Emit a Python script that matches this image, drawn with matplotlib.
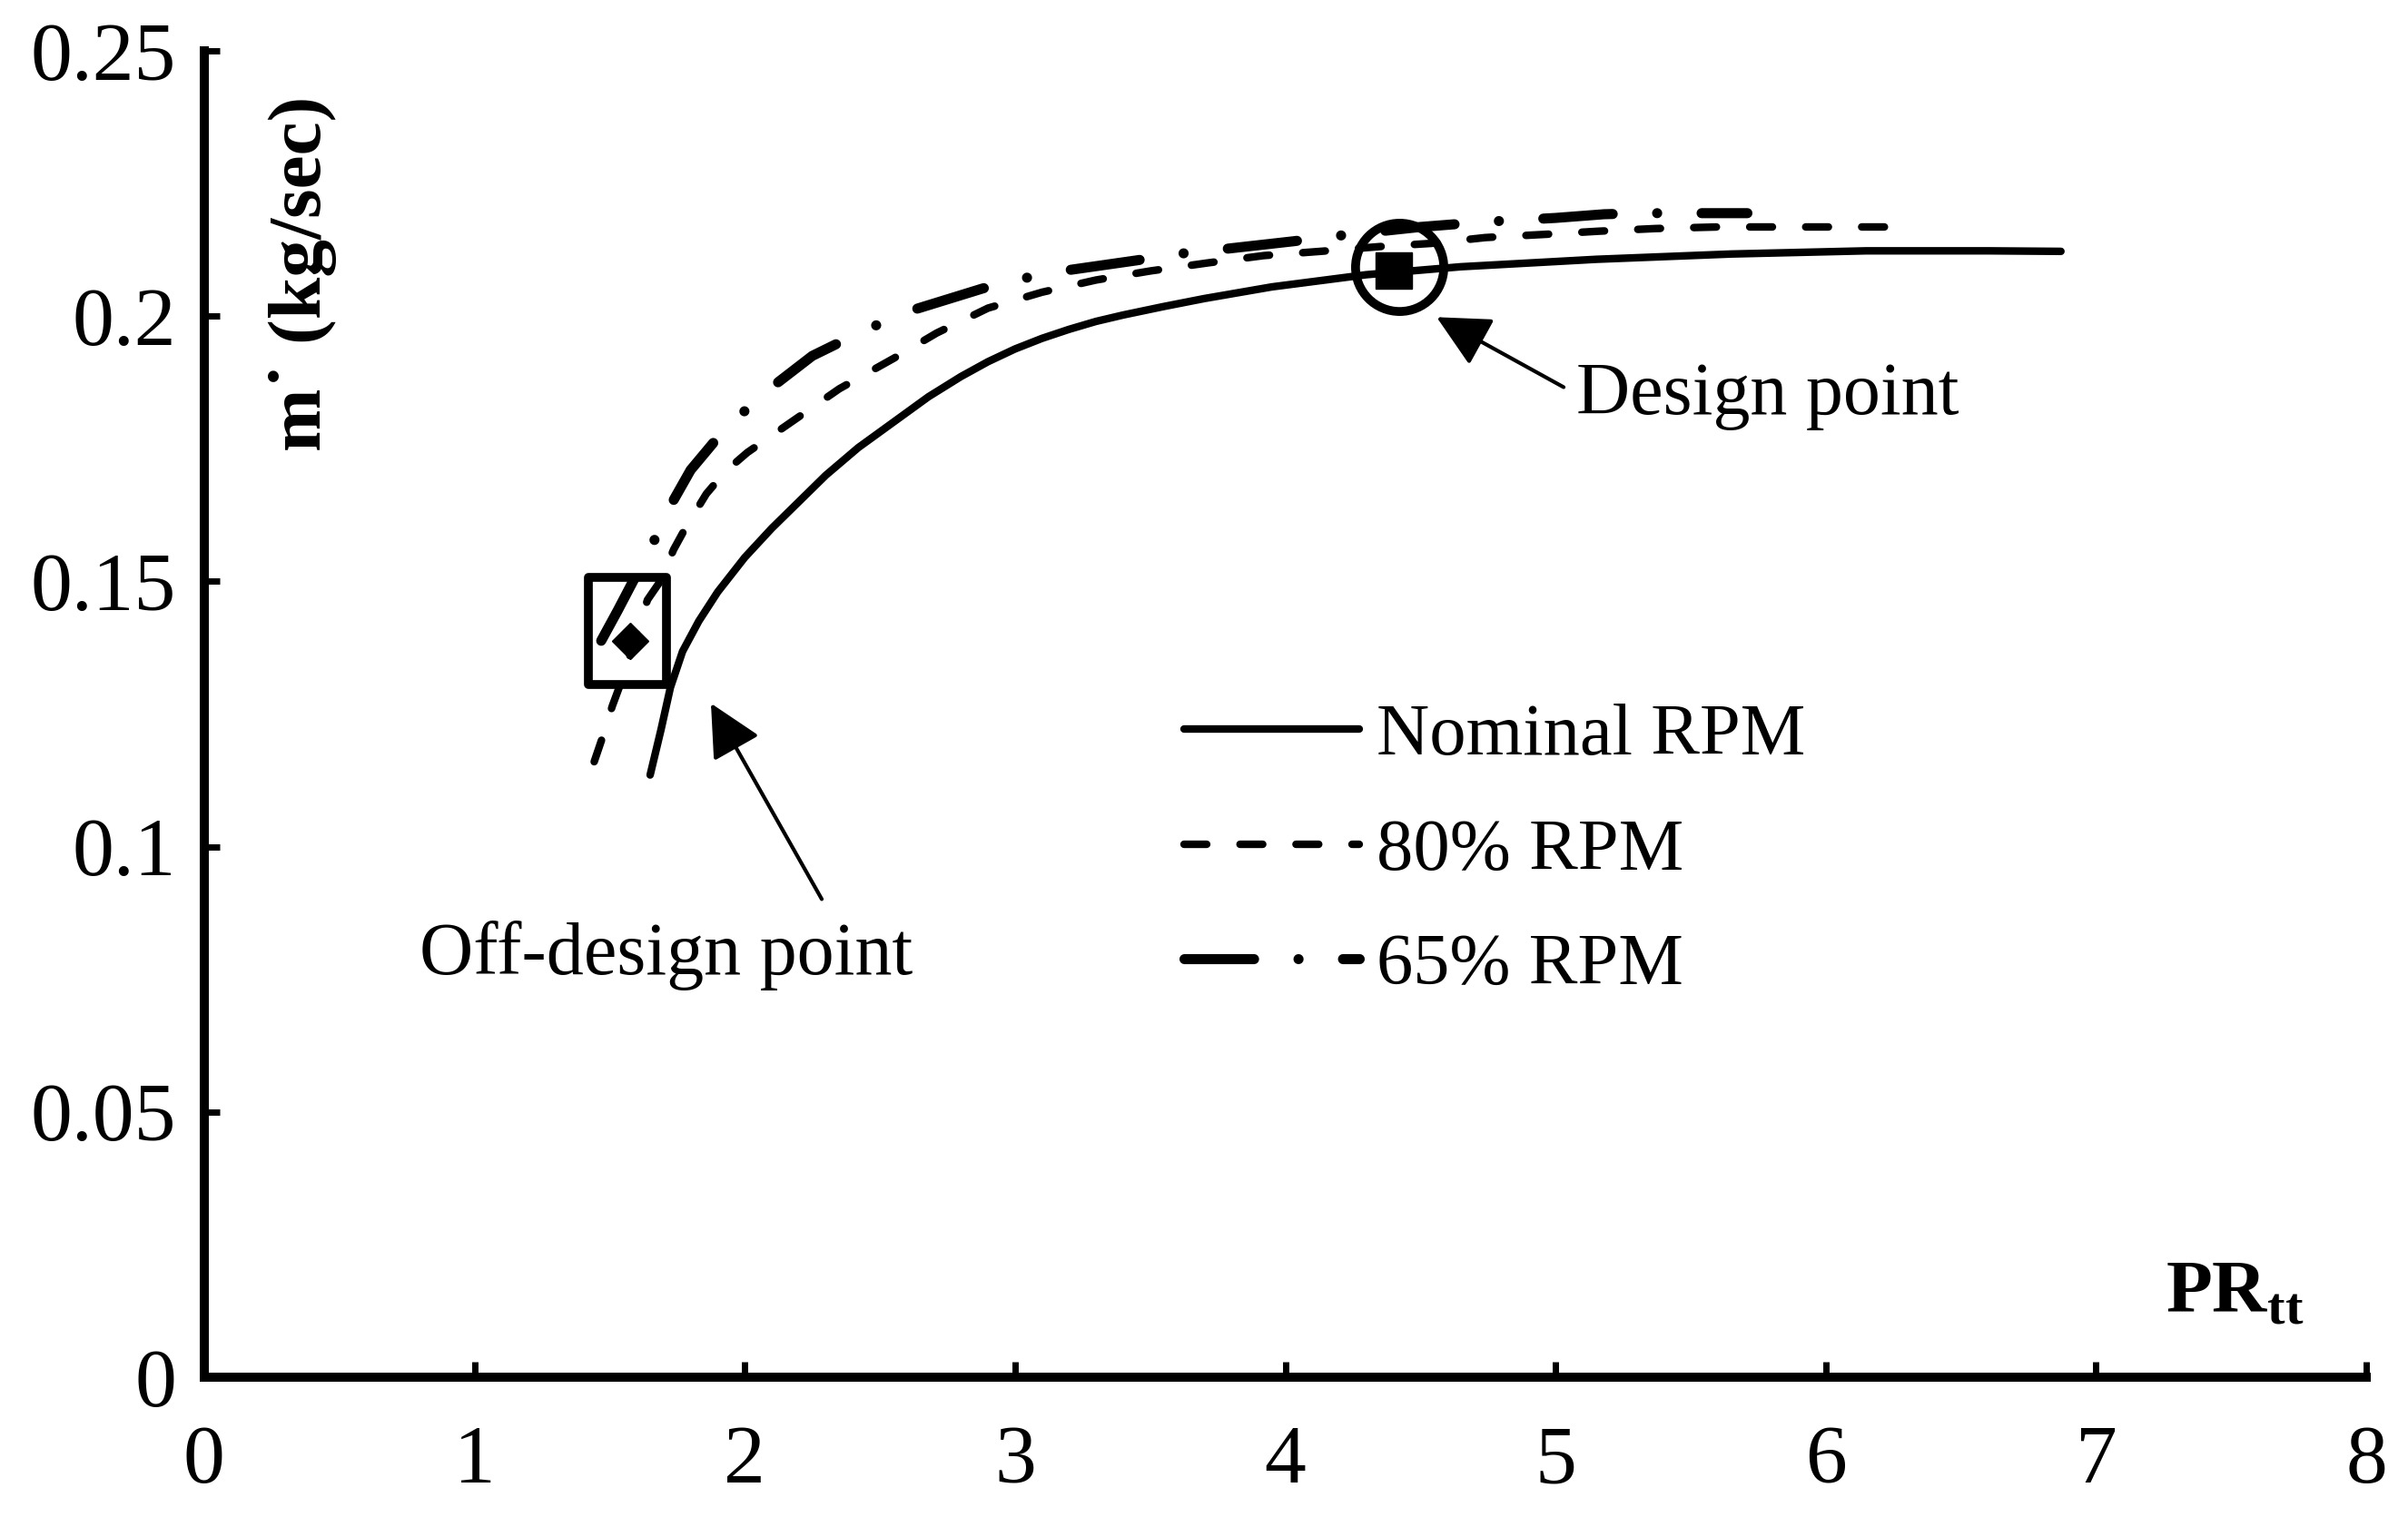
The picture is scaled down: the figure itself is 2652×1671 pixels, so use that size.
import numpy as np
import matplotlib
matplotlib.use("Agg")
import matplotlib.pyplot as plt
from matplotlib.patches import Rectangle

plt.rcParams['font.family'] = ['Liberation Serif', 'DejaVu Serif']
plt.rcParams['mathtext.fontset'] = 'custom'
plt.rcParams['mathtext.rm'] = 'Liberation Serif'
plt.rcParams['mathtext.bf'] = 'Liberation Serif:bold'

# Nominal RPM
pr_nom = [1.65, 1.69, 1.725, 1.77, 1.83, 1.90, 2.00, 2.10, 2.20, 2.30, 2.42, 2.55,
          2.68, 2.80, 2.90, 3.00, 3.10, 3.20, 3.30, 3.40, 3.55, 3.70, 3.95, 4.30,
          4.65, 5.15, 5.65, 6.15, 6.60, 6.87]
m_nom = [0.1135, 0.1220, 0.1300, 0.1368, 0.1425, 0.1480, 0.1545, 0.1600, 0.1650,
         0.1700, 0.1752, 0.1800, 0.1848, 0.1886, 0.1914, 0.1938, 0.1958, 0.1975,
         0.1990, 0.2002, 0.2018, 0.2033, 0.2055, 0.2078, 0.2093, 0.2107, 0.2117,
         0.2123, 0.2123, 0.2122]

# 80% RPM
pr_80 = [1.443, 1.475, 1.51, 1.55, 1.60, 1.64, 1.686, 1.737, 1.78, 1.858, 1.93, 2.01,
         2.18, 2.35, 2.55, 2.71, 2.90, 3.10, 3.30, 3.50, 3.71, 3.92, 4.13, 4.35,
         4.54, 4.74, 4.96, 5.16, 5.37, 5.60, 5.90, 6.26]
m_80 = [0.1160, 0.1208, 0.1265, 0.1320, 0.1400, 0.1465, 0.1499, 0.1560, 0.1600,
        0.1665, 0.1708, 0.1743, 0.1803, 0.1863, 0.1920, 0.1968, 0.2015, 0.2045,
        0.2068, 0.2085, 0.2100, 0.2114, 0.2122, 0.2131, 0.2137, 0.2148, 0.2154,
        0.2160, 0.2165, 0.2168, 0.2168, 0.2168]

# 65% RPM
pr_65 = [1.469, 1.53, 1.60, 1.668, 1.73, 1.80, 1.887, 1.993, 2.11, 2.25, 2.43, 2.60,
         2.88, 3.03, 3.175, 3.45, 3.60, 3.75, 4.03, 4.17, 4.50, 4.75, 5.00, 5.18,
         5.33, 5.60, 5.71]
m_65 = [0.1388, 0.1445, 0.1513, 0.1580, 0.1647, 0.1710, 0.1763, 0.1818, 0.1870,
        0.1925, 0.1970, 0.2008, 0.2052, 0.2071, 0.2085, 0.2105, 0.2117, 0.2125,
        0.2141, 0.2150, 0.2168, 0.2178, 0.2185, 0.2192, 0.2194, 0.2194, 0.2194]

design_pt = (4.40, 0.2085)
offdesign_pt = (1.575, 0.1387)
offdesign_box = (1.42, 0.1306, 1.71, 0.1507)

x_ticks = [0, 1, 2, 3, 4, 5, 6, 7, 8]
y_ticks = [0, 0.05, 0.1, 0.15, 0.2, 0.25]
y_ticklabels = ['0', '0.05', '0.1', '0.15', '0.2', '0.25']

fig = plt.figure(figsize=(26.52, 16.71), dpi=100)
ax = fig.add_axes([0.0848, 0.0922, 0.8979, 0.8743])

ax.plot(pr_nom, m_nom, color='black', lw=6, solid_capstyle='round',
        solid_joinstyle='round', label='Nominal RPM', zorder=3)
ax.plot(pr_80, m_80, color='black', lw=6, linestyle=(0, (3.0, 4.4)),
        dash_capstyle='round', label='80% RPM', zorder=3)
ax.plot(pr_65, m_65, color='black', lw=8, linestyle=(0, (6.9, 4.4, 0.01, 4.4)),
        dash_capstyle='round', label='65% RPM', zorder=3)

# design point
ax.plot(*design_pt, marker='s', ms=29, color='black', zorder=5)
ax.plot(design_pt[0] + 0.02, design_pt[1] + 0.0007, marker='o', ms=70,
        mfc='none', mec='black', mew=7, zorder=5)

# off-design point
ax.plot(*offdesign_pt, marker='D', ms=20, color='black', zorder=5)
x0, y0, x1, y1 = offdesign_box
ax.add_patch(Rectangle((x0, y0), x1 - x0, y1 - y0, fill=False, lw=7,
                       ec='black', joinstyle='round', zorder=5))

arrow = dict(arrowstyle='-|>,head_length=0.6,head_width=0.3', color='black',
             lw=3, mutation_scale=60, shrinkA=0, shrinkB=0)
ax.annotate('', xy=(4.56, 0.1998), xytext=(5.03, 0.1866), arrowprops=arrow)
ax.annotate('', xy=(1.875, 0.127), xytext=(2.285, 0.0901), arrowprops=arrow)
ax.text(5.076, 0.1815, 'Design point', fontsize=59, ha='left', va='baseline')
ax.text(0.796, 0.076, 'Off-design point', fontsize=59, ha='left', va='baseline')

ax.set_xlim(0, 8)
ax.set_ylim(0, 0.25)
ax.set_xticks(x_ticks)
ax.set_yticks(y_ticks)
ax.set_yticklabels(y_ticklabels)
ax.tick_params(direction='in', length=12, width=5, labelsize=66)
ax.tick_params(axis='x', pad=38)
ax.tick_params(axis='y', pad=22)
for s in ['top', 'right']:
    ax.spines[s].set_visible(False)
for s in ['left', 'bottom']:
    ax.spines[s].set_linewidth(7.2)

ax.text(0.0454, 0.832, 'm\u02d9 (kg/sec)', fontsize=60, fontweight='bold',
        rotation=90, ha='center', va='center', transform=ax.transAxes)
ax.text(0.907, 0.0486, r'$\mathbf{PR}_{\mathbf{tt}}$', fontsize=60,
        ha='left', va='baseline', transform=ax.transAxes)

ax.legend(loc='upper left', bbox_to_anchor=(0.4532, 0.508), frameon=False,
          fontsize=58, handlelength=2.4, handletextpad=0.23, labelspacing=0.66,
          borderpad=0, borderaxespad=0)

fig.savefig('out.png', dpi=100, facecolor='white')
